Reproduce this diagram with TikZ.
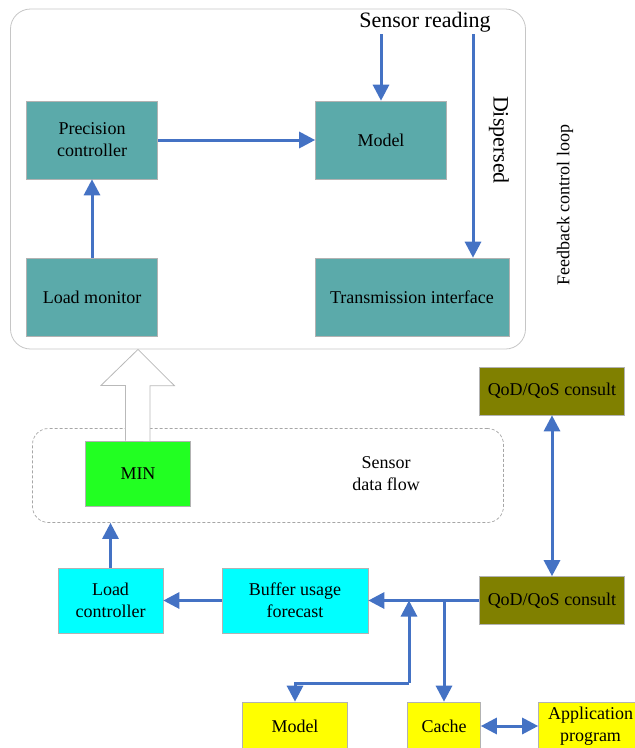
\documentclass[tikz,border=0pt]{standalone}
\usepackage{fontspec}
\setmainfont{Liberation Serif}
\usetikzlibrary{arrows.meta,calc}
\definecolor{tealbox}{HTML}{5BAAAA}
\definecolor{arrblue}{HTML}{4472C4}
\definecolor{olivebox}{HTML}{808000}
\definecolor{minbox}{HTML}{22FF22}
\definecolor{cyanbox}{HTML}{00FFFF}
\definecolor{yellowbox}{HTML}{FFFF00}

\begin{document}
\begin{tikzpicture}[x=1pt, y=-1pt,
  box/.style={draw=gray!60, line width=0.6pt, inner sep=0pt, align=center,
    font=\fontsize{18}{22}\selectfont},
  tbox/.style={box, fill=tealbox, minimum height=78pt},
  cbox/.style={box, fill=cyanbox, minimum height=65pt},
  obox/.style={box, fill=olivebox, minimum width=145pt, minimum height=48pt},
  ybox/.style={box, fill=yellowbox, minimum height=48pt},
  lbl/.style={inner sep=0pt, align=center, font=\fontsize{18}{22}\selectfont},
  biglbl/.style={inner sep=0pt, font=\fontsize{22}{26}\selectfont},
  arr/.style={draw=arrblue, line width=3pt, -{Triangle[length=16pt,width=16pt]}},
  darr/.style={arr, {Triangle[length=16pt,width=16pt]}-{Triangle[length=16pt,width=16pt]}},
  frame/.style={draw=gray!45, line width=0.8pt, rounded corners=20pt},
  flowframe/.style={draw=gray!70, line width=0.7pt, dash pattern=on 3pt off 2pt, rounded corners=16pt},
  hollow/.style={draw=gray!55, line width=0.8pt, fill=white}]

  \path[use as bounding box, clip] (0,0) rectangle (635,748);

  % feedback control loop
  \node[frame, minimum width=515pt, minimum height=340pt] (loop) at (268,179) {};
  \node[biglbl] (sr) at (425,22) {Sensor reading};
  \coordinate (srl) at (381,34);
  \coordinate (srr) at (473,34);
  \node[biglbl, rotate=-90] (dsp) at (499,140) {Dispersed};
  \node[lbl, rotate=90] (fcl) at (565,205) {Feedback control loop};

  \node[tbox, minimum width=131pt] (pc) at (92,140) {Precision\\controller};
  \node[tbox, minimum width=131pt] (mdl) at (381,140) {Model};
  \node[tbox, minimum width=131pt] (lm) at (92,297) {Load monitor};
  \node[tbox, minimum width=194pt] (ti) at (412,297) {Transmission interface};

  \draw[arr] (srl) -- (mdl.north); %% reading->Model
  \draw[arr] (srr) -- (srr |- ti.north); %% dispersed->interface
  \draw[arr] (pc) -- (mdl); %% pc->Model
  \draw[arr] (lm) -- (pc); %% monitor->pc

  % sensor data flow
  \node[flowframe, minimum width=471pt, minimum height=94pt] (flow) at (268,475.5) {};
  \node[box, fill=minbox, minimum width=105pt, minimum height=65pt] (mn) at (138,473.5) {MIN};
  \node[lbl] (sdf) at (386,474) {Sensor\\data flow};

  \draw[hollow] ($(mn.north)+(-12.5,0)$) -- ++(0,-55.3) -- ++(-24.5,0)
    -- (mn.north |- loop.south) -- ++(36.5,36.4) -- ++(-24.5,0) -- ++(0,55.3); %% MIN->loop

  % consult and buffer
  \node[obox] (qa) at (552,391) {QoD/QoS consult};
  \node[obox] (qb) at (552,600.5) {QoD/QoS consult};
  \node[cbox, minimum width=105pt] (lc) at (110.5,600.5) {Load\\controller};
  \node[cbox, minimum width=146pt] (buf) at (295,600.5) {Buffer usage\\forecast};

  \node[ybox, minimum width=105pt] (mdlb) at (295,726) {Model};
  \node[ybox, minimum width=73pt] (cache) at (444,726) {Cache};
  \node[ybox, minimum width=104pt] (app) at (590.5,726) {Application\\program};
  \coordinate (jn) at (409,683);

  \draw[darr] (qa.south) -- (qa.south |- qb.north); %% qa<->qb
  \draw[arr] (qb) -- (buf); %% qb->buf
  \draw[arr] (buf) -- (lc); %% buf->lc
  \draw[arr] (lc.north) -- (lc.north |- flow.south); %% lc->flow
  \draw[arr] (qb.west -| cache.north) -- (cache.north); %% qb->cache
  \draw[arr] (jn) -- (jn |- buf.east); %% model->line
  \draw[arr] (jn) -| (mdlb.north); %% line->model
  \draw[darr] (cache) -- (app); %% cache<->app
\end{tikzpicture}
\end{document}
